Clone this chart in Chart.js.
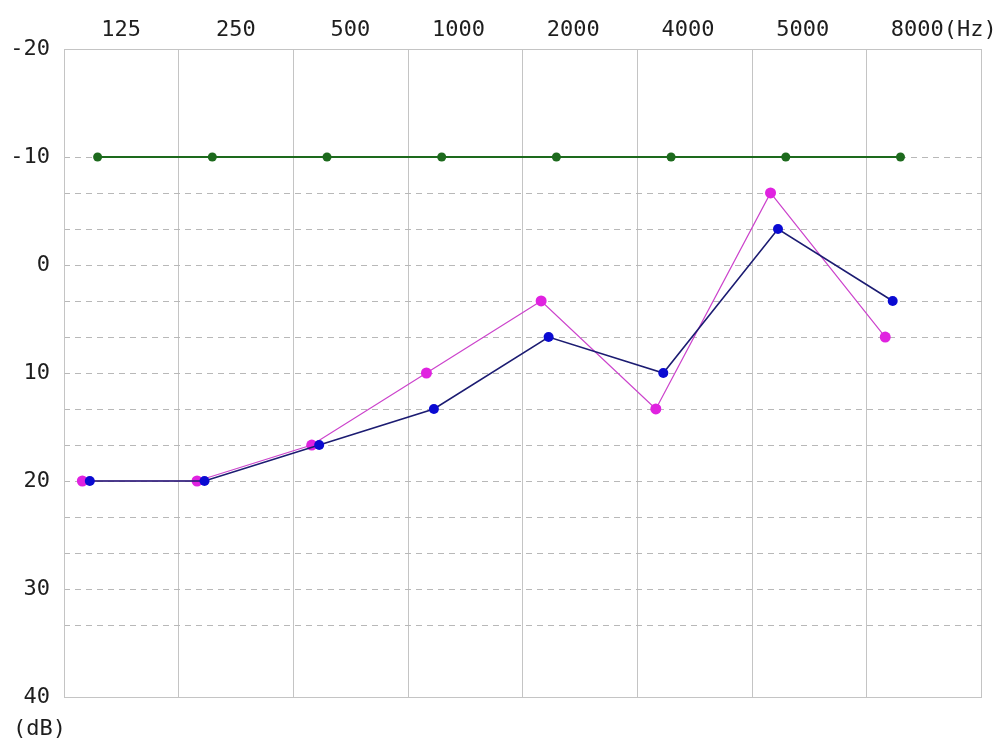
<!DOCTYPE html>
<html>
<head>
<meta charset="utf-8">
<title>Audiogram</title>
<script src="https://cdn.jsdelivr.net/npm/chart.js@4/dist/chart.umd.min.js"></script>
<style>
  html, body { margin: 0; padding: 0; background: #ffffff; }
  #wrap { width: 1005px; height: 744px; }
</style>
</head>
<body>
<div id="wrap"><canvas id="chart" width="1005" height="744"></canvas></div>
<script>
// Frequency columns (labels along the top) and the unit appended to the last one
const frequencies = ['125', '250', '500', '1000', '2000', '4000', '5000', '8000'];
const frequencyUnit = '(Hz)';

// Level axis
const levelMin = -20;
const levelMax = 40;
const levelStep = 10;
const levelUnit = '(dB)';
// dashed guide lines every third of a step, from -10 down to 33.3
const guideFrom = -10;
const guideTo = 33.4;

// Measured levels per frequency column
const greenLevels = [-10, -10, -10, -10, -10, -10, -10, -10];
const pinkLevels  = [20, 20, 16.67, 10, 3.33, 13.33, -6.67, 6.67];
const blueLevels  = [20, 20, 16.67, 13.33, 6.67, 10, -3.33, 3.33];

// ---- layout / styling ----
const FONT = 'DejaVu Sans Mono';
const FONT_PX = 22;
const CHAR_W = FONT_PX * 0.602;
const PLOT_LEFT = 64, PLOT_RIGHT = 983;
const COL_W = (PLOT_RIGHT - PLOT_LEFT) / frequencies.length;
const LABEL_RIGHT_IN_COL = 77;        // numbers end this far into each column
const GRID = '#c4c4c4';
const TEXT = '#1e1e1e';

// horizontal offset of each series' markers inside a column (fraction of column)
const offsets = { green: 0.293, pink: 0.16, blue: 0.225 };

function points(levels, off) {
  return levels.map((v, i) => ({ x: i + off, y: v }));
}

const guideTicks = [];
for (let v = guideFrom; v <= guideTo; v += levelStep / 3) guideTicks.push({ value: v });

Chart.defaults.font.family = FONT;
Chart.defaults.font.size = FONT_PX;
Chart.defaults.color = TEXT;

new Chart(document.getElementById('chart'), {
  type: 'line',
  data: {
    datasets: [
      {
        data: points(greenLevels, offsets.green),
        borderColor: '#1d6a1d', borderWidth: 2,
        pointRadius: 4.5, pointBackgroundColor: '#1d6a1d', pointBorderWidth: 0,
        xAxisID: 'x', yAxisID: 'y', order: 0
      },
      {
        data: points(blueLevels, offsets.blue),
        borderColor: '#1c1c72', borderWidth: 1.6,
        pointRadius: 5, pointBackgroundColor: '#0a0ad2', pointBorderWidth: 0,
        xAxisID: 'x', yAxisID: 'y', order: 1
      },
      {
        data: points(pinkLevels, offsets.pink),
        borderColor: '#cc44cc', borderWidth: 1.2,
        pointRadius: 5.5, pointBackgroundColor: '#e022e0', pointBorderWidth: 0,
        xAxisID: 'x', yAxisID: 'y', order: 2
      }
    ]
  },
  options: {
    responsive: false,
    animation: false,
    devicePixelRatio: 1,
    layout: { autoPadding: false, padding: { left: 13, right: 1005 - PLOT_RIGHT, top: 0, bottom: 0 } },
    plugins: {
      legend: { display: false },
      tooltip: { enabled: false },
      title: {
        display: true,
        text: levelUnit,
        position: 'bottom',
        align: 'start',
        color: TEXT,
        font: { family: FONT, size: FONT_PX, weight: 'normal', lineHeight: 1.2 },
        padding: { top: 18.8, bottom: 1.8 }
      }
    },
    scales: {
      x: {
        type: 'linear', position: 'bottom',
        min: 0, max: frequencies.length,
        ticks: { display: false, stepSize: 1 },
        grid: { color: GRID, lineWidth: 1, drawTicks: false },
        border: { display: true, color: GRID, width: 1 }
      },
      xTop: {
        type: 'linear', position: 'top',
        min: 0, max: frequencies.length,
        afterBuildTicks(scale) {
          scale.ticks = frequencies.map((f, i) => ({
            value: i + (LABEL_RIGHT_IN_COL - f.length * CHAR_W) / COL_W
          }));
        },
        afterFit(scale) { scale.height = 49; },
        ticks: {
          autoSkip: false, maxRotation: 0, minRotation: 0,
          align: 'start', padding: 6,
          color: TEXT,
          font: { family: FONT, size: FONT_PX },
          callback(value, index) {
            const f = frequencies[index];
            return index === frequencies.length - 1 ? f + frequencyUnit : f;
          }
        },
        grid: { display: false, drawTicks: false },
        border: { display: true, color: GRID, width: 1 }
      },
      y: {
        type: 'linear', position: 'left', reverse: true,
        min: levelMin, max: levelMax,
        afterFit(scale) { scale.width = 51; },
        ticks: { stepSize: levelStep, padding: 14, color: TEXT, font: { family: FONT, size: FONT_PX } },
        grid: { display: false, drawTicks: false },
        border: { display: true, color: GRID, width: 1 }
      },
      yGuide: {
        type: 'linear', position: 'right', reverse: true,
        min: levelMin, max: levelMax,
        afterBuildTicks(scale) { scale.ticks = guideTicks.slice(); },
        afterFit(scale) { scale.width = 0; },
        ticks: { display: false },
        grid: { color: '#b8b8b8', lineWidth: 1, drawTicks: false },
        border: { display: false, dash: [6, 5] }
      }
    }
  }
});
</script>
</body>
</html>
